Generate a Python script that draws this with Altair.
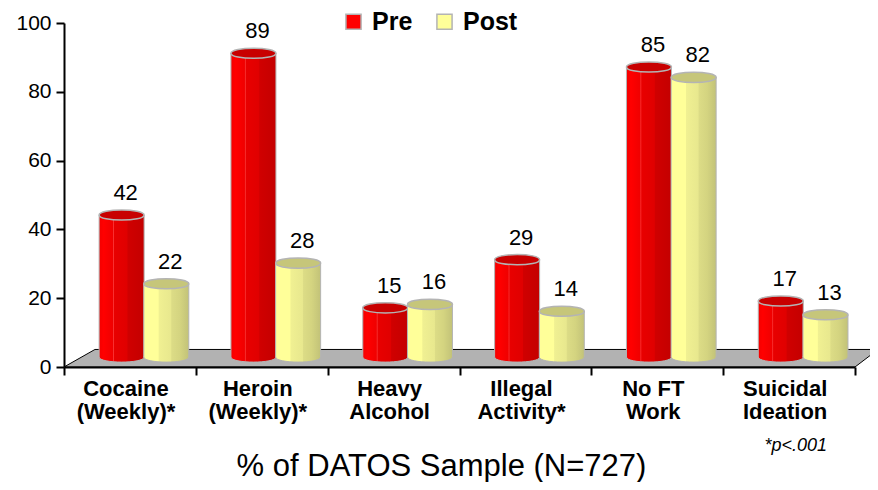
import altair as alt
import pandas as pd

categories = ["Cocaine\n(Weekly)*", "Heroin\n(Weekly)*", "Heavy\nAlcohol", "Illegal\nActivity*", "No FT\nWork", "Suicidal\nIdeation"]
pre = [42, 89, 15, 29, 85, 17]
post = [22, 28, 16, 14, 82, 13]
floor_x = [0, 0.235, 6, 6.175]
floor_top = [0, 5.1, 5.1, 5.1]
floor_bottom = [0, 0, 0, 5.1]
tick_values = [0, 1, 2, 3, 4, 5, 6]
y_ticks = [0, 20, 40, 60, 80, 100]
x_title = "% of DATOS Sample (N=727)"

FONT = "Liberation Sans"
BAR_W = 45
HALF = BAR_W / 131.83 / 2
TOP_LIFT = 2.2
BASE_LIFT = 2.9
ELLIPSE = "M-1,0 C-1,-0.3 1,-0.3 1,0 C1,0.3 -1,0.3 -1,0 Z"
EDGE = "#B4B4B4"


def series_frame(values, offset):
    rows = []
    for i, v in enumerate(values):
        c = i + 0.5 + offset
        rows.append({"c": c, "left": c - HALF, "right": c + HALF, "value": v,
                     "top": v + TOP_LIFT, "base": BASE_LIFT})
    return pd.DataFrame(rows)


def grad(stops):
    return alt.Gradient(gradient="linear", x1=0, x2=1, y1=0, y2=0,
                        stops=[alt.GradientStop(offset=o, color=c) for o, c in stops])


x_scale = alt.Scale(domain=[0, 6], nice=False, zero=False)
y_scale = alt.Scale(domain=[0, 100], nice=False)
x_axis = alt.Axis(values=tick_values, labels=False, grid=False, domainColor="black", domainWidth=2,
                  tickColor="black", tickWidth=2, tickSize=8, titleFont=FONT, titleFontSize=31,
                  titleFontWeight="normal", titleColor="black", titleX=377, titleY=108,
                  titleBaseline="alphabetic", zindex=1)
y_axis = alt.Axis(values=y_ticks, grid=False, domainColor="black", domainWidth=2, tickColor="black",
                  tickWidth=2, tickSize=8, labelFont=FONT, labelFontSize=21, labelColor="black",
                  labelPadding=5, zindex=1)


def X(field):
    return alt.X(field, scale=x_scale, axis=x_axis, title=x_title)


def Y(field):
    return alt.Y(field, scale=y_scale, axis=y_axis, title=None)


red = series_frame(pre, -0.063)
yel = series_frame(post, 0.276)

red_grad = grad([(0, "#F40000"), (0.1, "#FF0000"), (0.3, "#F00000"), (0.32, "#F83030"), (0.34, "#E80000"),
                 (0.62, "#E00000"), (0.64, "#D00000"), (1, "#C40000")])
yel_grad = grad([(0, "#FFFF99"), (0.32, "#FFFF99"), (0.34, "#F0F092"), (0.6, "#E8E88E"), (0.62, "#DCDC86"),
                 (0.8, "#D4D480"), (1, "#C2C278")])

legend_df = pd.concat([red.assign(series="Pre"), yel.assign(series="Post")])
legend_layer = alt.Chart(legend_df).mark_square(size=1, opacity=1).encode(
    x=X("c:Q"),
    y=Y("base:Q"),
    color=alt.Color("series:N", scale=alt.Scale(domain=["Pre", "Post"], range=["#FF0000", "#FFFF99"]),
                    legend=alt.Legend(orient="none", legendX=277, legendY=-14, direction="horizontal", title=None,
                                      symbolType="square", symbolSize=230, symbolStrokeColor=EDGE,
                                      symbolStrokeWidth=1.5, labelFont=FONT, labelFontSize=25,
                                      labelFontWeight="bold", labelColor="black", columnPadding=19,
                                      labelOffset=6)),
)

floor = alt.Chart(pd.DataFrame({"x": floor_x, "top": floor_top, "bottom": floor_bottom})).mark_area(
    color="#B2B2B2", stroke="black", strokeWidth=1, clip=False
).encode(
    x=X("x:Q"),
    y=Y("top:Q"),
    y2="bottom:Q",
)


def cylinder(df, gradient, cap):
    base = alt.Chart(df).mark_point(shape=ELLIPSE, size=BAR_W ** 2, filled=True, fill=gradient, stroke=EDGE,
                                    strokeWidth=1, opacity=1).encode(x=X("c:Q"), y=Y("base:Q"))
    body = alt.Chart(df).mark_bar(color=gradient).encode(
        x=X("left:Q"), x2="right:Q", y=Y("top:Q"), y2="base:Q")
    left_edge = alt.Chart(df).mark_rule(color=EDGE, strokeWidth=1).encode(
        x=X("left:Q"), y=Y("top:Q"), y2="base:Q")
    right_edge = alt.Chart(df).mark_rule(color=EDGE, strokeWidth=1).encode(
        x=X("right:Q"), y=Y("top:Q"), y2="base:Q")
    top = alt.Chart(df).mark_point(shape=ELLIPSE, size=BAR_W ** 2, filled=True, fill=cap, stroke=EDGE,
                                   strokeWidth=1.5, opacity=1).encode(x=X("c:Q"), y=Y("top:Q"))
    label = alt.Chart(df).mark_text(font=FONT, fontSize=22, color="black", dy=-22, dx=4).encode(
        x=X("c:Q"), y=Y("top:Q"), text="value:Q")
    return [base, body, left_edge, right_edge, top, label]


cat_df = pd.DataFrame({"x": [i + 0.47 for i in range(len(categories))], "label": categories})
cat_labels = alt.Chart(cat_df).mark_text(font=FONT, fontSize=22, fontWeight="bold", color="black", baseline="top",
                                         lineBreak="\n", lineHeight=23).encode(
    x=X("x:Q"),
    y=alt.value(356),
    text="label:N",
)

note = alt.Chart(pd.DataFrame({"x": [5.55], "label": ["*p<.001"]})).mark_text(
    font=FONT, fontSize=18, fontStyle="italic", color="black", baseline="middle"
).encode(x=X("x:Q"), y=alt.value(423), text="label:N")

chart = alt.layer(
    legend_layer, floor,
    *cylinder(red, red_grad, "#C80000"),
    *cylinder(yel, yel_grad, "#C6C67A"),
    cat_labels, note,
).properties(
    width=791, height=344,
    autosize=alt.AutoSizeParams(type="none"),
    padding={"left": 56, "top": 15, "right": 15, "bottom": 115},
).configure_view(stroke=None)

chart.save("out.html", embed_options={"renderer": "svg", "actions": False})
